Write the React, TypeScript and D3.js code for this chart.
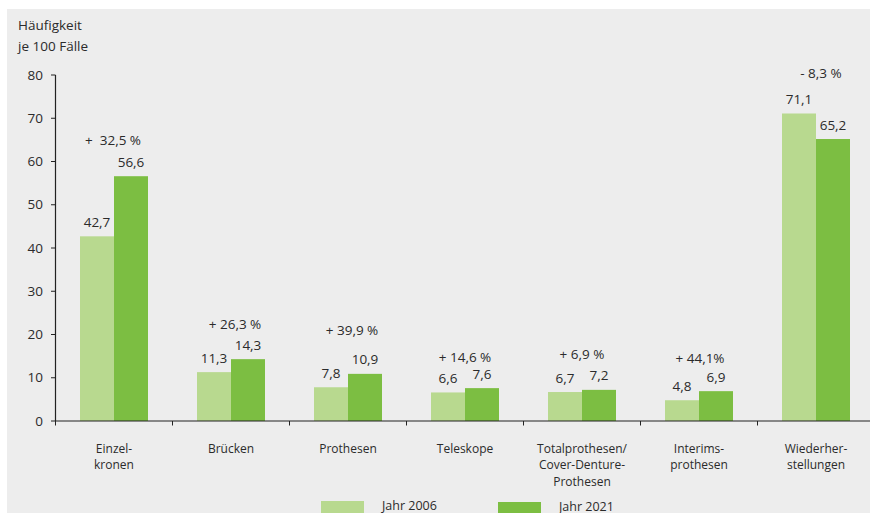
import React from "react";
import * as d3 from "d3";

const categories = [
  ["Einzel-", "kronen"],
  ["Brücken"],
  ["Prothesen"],
  ["Teleskope"],
  ["Totalprothesen/", "Cover-Denture-", "Prothesen"],
  ["Interims-", "prothesen"],
  ["Wiederher-", "stellungen"],
];
const categoryKeys = ["Einzelkronen", "Brücken", "Prothesen", "Teleskope", "Totalprothesen", "Interimsprothesen", "Wiederherstellungen"];
const values2006 = [42.7, 11.3, 7.8, 6.6, 6.7, 4.8, 71.1];
const values2021 = [56.6, 14.3, 10.9, 7.6, 7.2, 6.9, 65.2];
const changeLabels = ["+  32,5 %", "+ 26,3 %", "+ 39,9 %", "+ 14,6 %", "+ 6,9 %", "+ 44,1%", "- 8,3 %"];
const seriesNames = ["Jahr 2006", "Jahr 2021"];
const yTicks = [0, 10, 20, 30, 40, 50, 60, 70, 80];

// layout tweaks for change annotations (px)
const pctGap = [22, 21, 29, 17, 21, 19, 26];
const pctDx = [-1, 4, 4, 0, 0, 1, 5];

const W = 870;
const H = 513;
const colors = ["#b8d98f", "#7cbe42"];
const textColor = "#2b2b2b";
const font = "'Open Sans', 'Noto Sans', sans-serif";

export default function App() {
  const x = d3.scaleBand<string>().domain(categoryKeys).range([55.5, 874.5]).paddingInner(0).paddingOuter(0);
  const y = d3.scaleLinear().domain([0, 80]).range([421, 75]);
  const barW = 34;

  return (
    <svg width={W} height={H} style={{ position: "absolute", left: 0, top: 0 }} fontFamily={font}>
      <rect x={0} y={0} width={W} height={H} fill="#ffffff" />
      <rect x={7} y={9} width={W - 7} height={H - 9} fill="#ededed" />
      <text x={18} y={30} fontSize={13.5} fill={textColor}>Häufigkeit</text>
      <text x={18} y={51} fontSize={13.5} fill={textColor}>je 100 Fälle</text>

      {/* bars */}
      {categoryKeys.map((k, i) => {
        const cx = (x(k) as number) + x.bandwidth() / 2;
        const v = [values2006[i], values2021[i]];
        const labelYs = v.map((d) => y(d) - 9.5);
        const topLabel = Math.min(...labelYs);
        return (
          <g key={k}>
            {v.map((d, j) => (
              <rect key={j} x={cx - barW + j * barW} y={y(d)} width={barW} height={y(0) - y(d)} fill={colors[j]} />
            ))}
            {v.map((d, j) => (
              <text key={"l" + j} x={cx - barW / 2 + j * barW} y={labelYs[j]} fontSize={13.5} fill={textColor} textAnchor="middle">
                {d.toFixed(1).replace(".", ",")}
              </text>
            ))}
            <text x={cx + pctDx[i]} y={topLabel - pctGap[i]} fontSize={13.5} fill={textColor} textAnchor="middle" style={{ whiteSpace: "pre" }}>
              {changeLabels[i]}
            </text>
            {categories[i].map((line, li) => (
              <text key={"c" + li} x={cx} y={452.5 + li * 16.5} fontSize={12} fill={textColor} textAnchor="middle">
                {line}
              </text>
            ))}
          </g>
        );
      })}

      {/* y axis */}
      <line x1={55.5} x2={55.5} y1={y(80)} y2={y(0)} stroke="#222" strokeWidth={1.2} />
      {yTicks.map((t) => (
        <g key={t}>
          <line x1={51} x2={55.5} y1={y(t)} y2={y(t)} stroke="#222" strokeWidth={1} />
          <text x={43} y={y(t)} dy="0.35em" fontSize={13.5} fill={textColor} textAnchor="end">{t}</text>
        </g>
      ))}

      {/* x axis */}
      <line x1={55.5} x2={W} y1={y(0)} y2={y(0)} stroke="#222" strokeWidth={1.2} />
      {categoryKeys.map((k) => (
        <line key={k} x1={x(k) as number} x2={x(k) as number} y1={y(0)} y2={y(0) + 4.5} stroke="#222" strokeWidth={1} />
      ))}

      {/* legend */}
      {seriesNames.map((s, j) => (
        <g key={s}>
          <rect x={321 + j * 177} y={501 + j} width={43} height={14} fill={colors[j]} />
          <text x={382 + j * 177} y={509.5 + j} fontSize={12.5} fill={textColor}>{s}</text>
        </g>
      ))}
    </svg>
  );
}
